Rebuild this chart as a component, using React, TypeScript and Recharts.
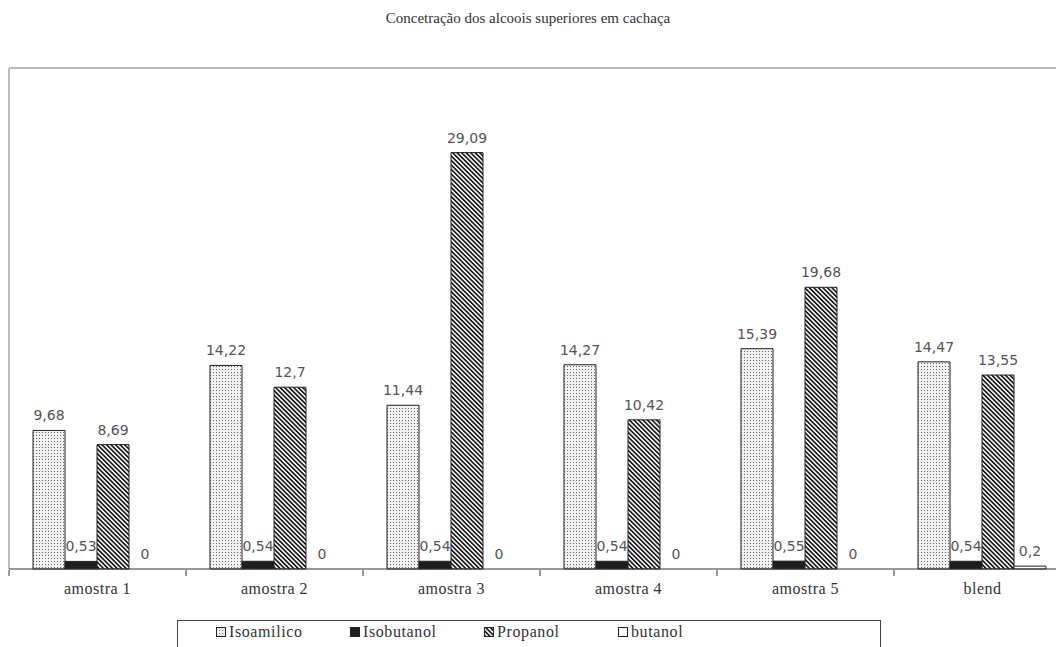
import { Bar, BarChart, LabelList, ReferenceLine, Rectangle, XAxis, YAxis } from 'recharts';

const amostras = ['amostra 1', 'amostra 2', 'amostra 3', 'amostra 4', 'amostra 5', 'blend'];
const isoamilico = [9.68, 14.22, 11.44, 14.27, 15.39, 14.47];
const isobutanol = [0.53, 0.54, 0.54, 0.54, 0.55, 0.54];
const propanol = [8.69, 12.7, 29.09, 10.42, 19.68, 13.55];
const butanol = [0, 0, 0, 0, 0, 0.2];
const boundaryTicks = [0, 1, 2, 3, 4, 5, 6];

const data = amostras.map((a, i) => ({
  amostra: a,
  idx: i + 0.5,
  Isoamilico: isoamilico[i],
  Isobutanol: isobutanol[i],
  Propanol: propanol[i],
  butanol: butanol[i],
}));

const series = [
  { key: 'Isoamilico', fill: 'url(#dots)' },
  { key: 'Isobutanol', fill: '#1e1e1e' },
  { key: 'Propanol', fill: 'url(#stripes)' },
  { key: 'butanol', fill: '#ffffff' },
];

const fmt = (v: any) => String(v).replace('.', ',');
const serif = '"Liberation Serif", "DejaVu Serif", serif';
const sans = '"DejaVu Sans", Verdana, sans-serif';

const renderLabel = (props: any) => {
  const { x, y, width, height, value } = props;
  // zero bars get a 1px min size so they get a label; put it on the baseline
  const top = Number(value) === 0 ? Number(y) + Number(height) : Number(y);
  return (
    <text
      x={Number(x) + Number(width) / 2}
      y={top - 10}
      textAnchor="middle"
      fill="#555"
      fontSize={14}
      fontFamily={sans}
    >
      {fmt(value)}
    </text>
  );
};

function LegendBox() {
  const pos = [38, 172, 306, 440];
  return (
    <div
      style={{
        position: 'absolute',
        left: 177,
        top: 620,
        width: 702,
        height: 40,
        border: '1px solid #444',
        background: '#fff',
        fontFamily: serif,
        fontSize: 16,
        letterSpacing: 0.6,
        color: '#333',
      }}
    >
      {series.map((s, i) => (
        <div key={s.key} style={{ position: 'absolute', left: pos[i], top: 2, display: 'flex', alignItems: 'center' }}>
          <svg width={10} height={10} style={{ marginRight: 3 }}>
            <rect x={0.5} y={0.5} width={9} height={9} fill={s.fill} stroke="#222" strokeWidth={1} />
          </svg>
          <span>{s.key}</span>
        </div>
      ))}
    </div>
  );
}

export default function App() {
  return (
    <div style={{ position: 'absolute', left: 0, top: 0, width: 1056, height: 647, overflow: 'hidden', background: '#fff' }}>
      <div
        style={{
          position: 'absolute',
          top: 10,
          width: 1056,
          textAlign: 'center',
          fontFamily: serif,
          fontSize: 15,
          color: '#333',
        }}
      >
        Concetração dos alcoois superiores em cachaça
      </div>
      <BarChart
        width={1080}
        height={647}
        data={data}
        margin={{ top: 68, left: 9, right: 9, bottom: 48 }}
        barCategoryGap={24}
        barGap={0}
        style={{ position: 'absolute', left: 0, top: 0 }}
      >
        <defs>
          <pattern id="dots" width="3" height="3" patternUnits="userSpaceOnUse">
            <rect width="3" height="3" fill="#f2f2f2" />
            <rect x="0" y="0" width="1" height="1" fill="#6a6a6a" />
          </pattern>
          <pattern id="stripes" width="3.2" height="3.2" patternUnits="userSpaceOnUse" patternTransform="rotate(-45)">
            <rect width="3.2" height="3.2" fill="#ffffff" />
            <rect width="1.7" height="3.2" fill="#1a1a1a" />
          </pattern>
        </defs>
        <XAxis
          dataKey="amostra"
          axisLine={false}
          tickLine={false}
          height={1}
          tick={{ fill: '#333', fontSize: 16, fontFamily: serif, letterSpacing: 0.5 }}
          tickMargin={8}
          interval={0}
        />
        <XAxis
          xAxisId="b"
          type="number"
          dataKey="idx"
          domain={[0, 6]}
          ticks={boundaryTicks}
          tickFormatter={() => ''}
          tickSize={6}
          height={29}
          axisLine={false}
          tickLine={{ stroke: '#333' }}
        />
        <YAxis width={0} domain={[0, 35]} tick={false} tickLine={false} axisLine={false} />
        <ReferenceLine y={35} stroke="#bbb" strokeWidth={2} />
        <ReferenceLine xAxisId="b" x={0} stroke="#bbb" strokeWidth={2} />
        <ReferenceLine y={0} stroke="#333" strokeWidth={1} />
        {series.map((s) => (
          <Bar
            key={s.key}
            dataKey={s.key}
            fill={s.fill}
            stroke="#222"
            strokeWidth={1}
            minPointSize={(v: number) => (v === 0 ? 1 : 0)}
            shape={(p: any) => (p.payload && p.payload[s.key] === 0 ? <g /> : <Rectangle {...p} />)}
            isAnimationActive={false}
          >
            <LabelList dataKey={s.key} content={renderLabel} />
          </Bar>
        ))}
      </BarChart>
      <LegendBox />
    </div>
  );
}
